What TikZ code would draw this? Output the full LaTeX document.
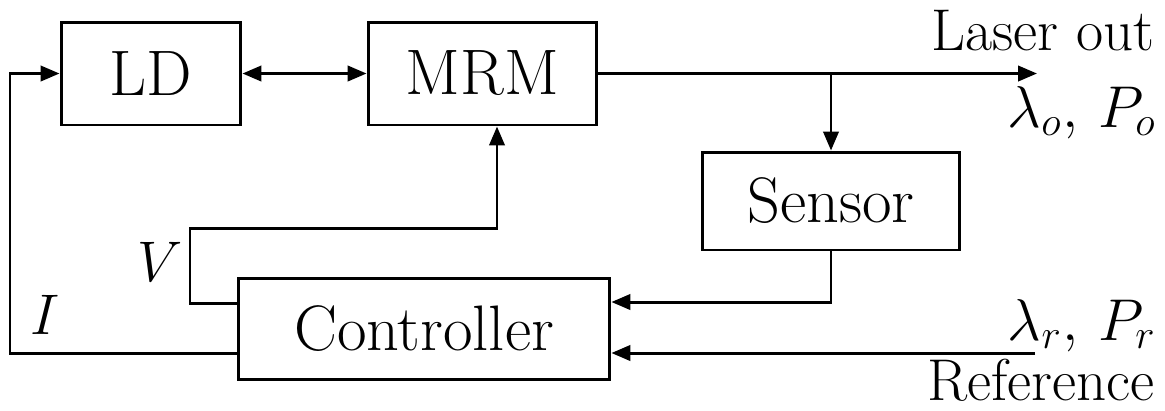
\documentclass[tikz,border=0pt]{standalone}
\usepackage{amsmath}
\usetikzlibrary{arrows.meta, positioning, calc}

\begin{document}
\begin{tikzpicture}[
    x=0.0106cm, y=-0.0106cm,
    font=\LARGE,
    box/.style={rectangle, draw, line width=0.9pt, inner sep=0pt, align=center, font=\fontsize{19.4}{23}\selectfont},
    tag/.style={anchor=base east, inner sep=0pt, scale=1.03},
    wire/.style={line width=0.9pt},
    arrow/.style={-{Triangle[length=5.7pt, width=4.6pt]}, line width=0.9pt},
]
\useasboundingbox (0,0) rectangle (1165,410);

\node[box, minimum width=1.908cm, minimum height=1.092cm] (ld) at (151,73.5) {LD};
\node[box, minimum width=2.427cm, minimum height=1.092cm] (mrm) at (482.5,73.5) {MRM};
\node[box, minimum width=2.724cm, minimum height=1.039cm] (sensor) at (831,201) {Sensor};
\node[box, minimum width=3.943cm, minimum height=1.081cm] (ctrl) at (424,329) {Controller};

\coordinate (laserout) at (1037,73.5);
\coordinate (refin) at (1035,353);
\coordinate (vcorner) at (190,228);
\coordinate (icorner) at (10,353);

% labels
\node[tag] (lout) at (1155,50) {Laser out};
\node[tag] (lamo) at (1157,127) {$\lambda_o,\, P_o$};
\node[tag] (lamr) at (1157,340) {$\lambda_r,\, P_r$};
\node[tag] (refl) at (1155,400) {Reference};
\node (vlab) at (160,262) {$V$};
\node (ilab) at (45,315) {$I$};

% connectors
\draw[arrow, {Triangle[length=5.7pt, width=4.6pt]}-{Triangle[length=5.7pt, width=4.6pt]}] (ld) -- (mrm);
\draw[arrow] (mrm.east) -- (laserout);
\draw[arrow] (sensor.north |- mrm.east) -- (sensor.north);
\draw[arrow] (sensor.south) |- ($(ctrl.east)+(0,-27)$);
\draw[arrow] (refin) -- ($(ctrl.east)+(0,24)$);
\draw[arrow] ($(ctrl.west)+(0,24)$) -- (icorner) |- (ld.west);
\draw[arrow] ($(ctrl.west)+(0,-26)$) -| (vcorner) -| (497,0 |- mrm.south);
\end{tikzpicture}
\end{document}
